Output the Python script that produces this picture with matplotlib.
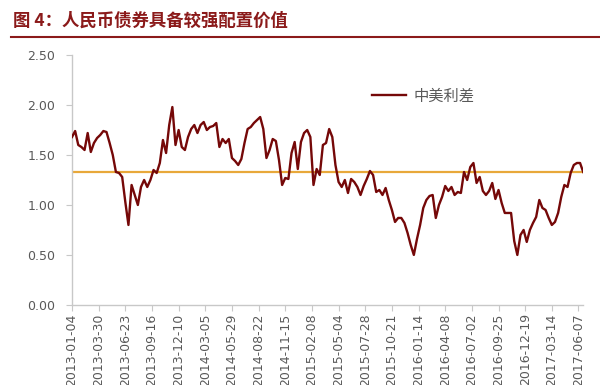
"""中美利差 (China-US rate spread) line chart, 2013-01 .. 2017-06."""

import matplotlib

matplotlib.use("Agg")
import matplotlib.dates as mdates
import matplotlib.pyplot as plt
import pandas as pd

plt.rcParams["font.family"] = ["Noto Sans CJK SC", "DejaVu Sans"]

TITLE = "图 4：人民币债券具备较强配置价值"
SERIES_NAME = "中美利差"

# spread values, one reading every 10 days starting 2013-01-04
START = "2013-01-04"
STEP = "10D"
spread = [
    1.68, 1.74, 1.60, 1.58, 1.55, 1.72, 1.53, 1.62, 1.67, 1.70,
    1.74, 1.73, 1.62, 1.50, 1.33, 1.32, 1.28, 1.03, 0.80, 1.20,
    1.10, 1.00, 1.18, 1.25, 1.18, 1.25, 1.35, 1.32, 1.42, 1.65,
    1.52, 1.80, 1.98, 1.60, 1.75, 1.58, 1.55, 1.68, 1.76, 1.80,
    1.72, 1.80, 1.83, 1.75, 1.78, 1.79, 1.82, 1.58, 1.66, 1.62,
    1.66, 1.47, 1.44, 1.40, 1.46, 1.62, 1.76, 1.78, 1.82, 1.85,
    1.88, 1.76, 1.47, 1.55, 1.66, 1.64, 1.45, 1.20, 1.27, 1.26,
    1.52, 1.63, 1.36, 1.63, 1.72, 1.75, 1.68, 1.20, 1.36, 1.30,
    1.60, 1.62, 1.76, 1.68, 1.40, 1.23, 1.18, 1.25, 1.12, 1.26,
    1.23, 1.18, 1.10, 1.19, 1.26, 1.34, 1.30, 1.13, 1.15, 1.10,
    1.17, 1.05, 0.95, 0.83, 0.87, 0.87, 0.82, 0.72, 0.60, 0.50,
    0.66, 0.80, 0.97, 1.05, 1.09, 1.10, 0.87, 1.00, 1.08, 1.19,
    1.14, 1.18, 1.10, 1.13, 1.12, 1.33, 1.25, 1.38, 1.42, 1.22,
    1.28, 1.14, 1.10, 1.14, 1.22, 1.06, 1.15, 1.02, 0.92, 0.92,
    0.92, 0.64, 0.50, 0.70, 0.75, 0.63, 0.75, 0.82, 0.88, 1.05,
    0.97, 0.95, 0.87, 0.80, 0.83, 0.92, 1.08, 1.20, 1.18, 1.32,
    1.40, 1.42, 1.42, 1.33,
]
mean_level = 1.33

# x tick labels: every 85 days
TICK_START = "2013-01-04"
TICK_COUNT = 20
TICK_STEP = "85D"

dates = pd.date_range(START, periods=len(spread), freq=STEP)
ticks = pd.date_range(TICK_START, periods=TICK_COUNT, freq=TICK_STEP)

fig = plt.figure(figsize=(6.0, 3.85), dpi=100)
ax = fig.add_axes([0.12, 0.208, 0.852, 0.649])

ax.plot(dates, spread, color="#750808", lw=1.7, label=SERIES_NAME, zorder=3)
ax.plot([dates[0], dates[-1]], [mean_level, mean_level], color="#e8a83a", lw=1.6, zorder=2)

ax.set_ylim(0, 2.5)
ax.set_yticks([0, 0.5, 1.0, 1.5, 2.0, 2.5])
ax.yaxis.set_major_formatter(matplotlib.ticker.FormatStrFormatter("%.2f"))
ax.set_xlim(dates[0], dates[-1])
ax.set_xticks(ticks)
ax.xaxis.set_major_formatter(mdates.DateFormatter("%Y-%m-%d"))
ax.tick_params(axis="x", labelrotation=90, labelsize=9, colors="#595959",
               length=4, width=0.8, color="#c8c8c8", pad=2)
ax.tick_params(axis="y", labelsize=9, colors="#595959",
               length=4, width=0.8, color="#c8c8c8", pad=8)
for lab in ax.get_xticklabels() + ax.get_yticklabels():
    lab.set_family("DejaVu Sans")

ax.spines[["top", "right"]].set_visible(False)
for s in ("left", "bottom"):
    ax.spines[s].set_color("#c8c8c8")
    ax.spines[s].set_linewidth(1.0)

leg = ax.legend(loc="upper left", bbox_to_anchor=(0.56, 0.925), frameon=False,
                fontsize=11, handlelength=2.2, handletextpad=0.5)
for t in leg.get_texts():
    t.set_color("#595959")

fig.text(0.022, 0.946, TITLE, fontsize=12.5, fontweight="bold", color="#8b1a1a",
         va="center", ha="left")
fig.add_artist(matplotlib.lines.Line2D([0.018, 1.0], [0.903, 0.903],
                                       color="#8b1a1a", lw=1.5))

fig.savefig("out.png", dpi=100)
